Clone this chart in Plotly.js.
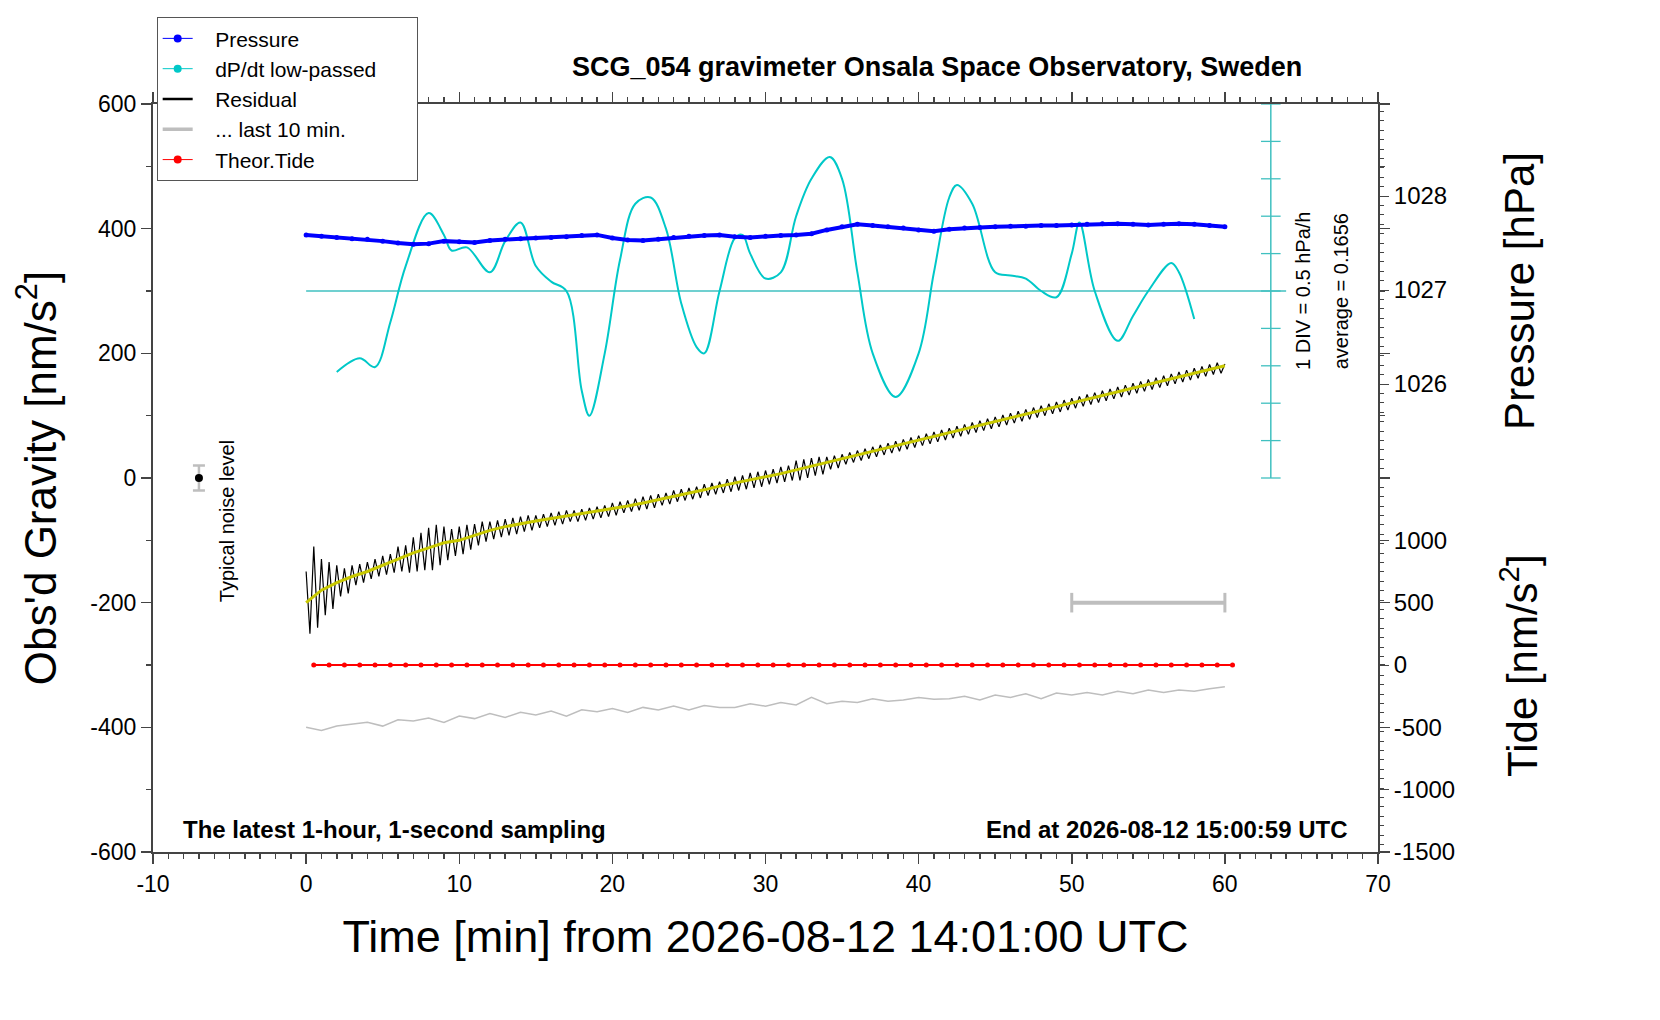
<!DOCTYPE html>
<html>
<head>
<meta charset="utf-8">
<script src="https://cdn.plot.ly/plotly-3.0.1.min.js"></script>
<style>body{margin:0;background:#fff}#chart{width:1660px;height:1020px}</style>
</head>
<body>
<div id="chart"></div>
<script>
// Values. Gravity in nm/s^2, time in minutes.
const MINUTES = [0,1,2,3,4,5,6,7,8,9,10,11,12,13,14,15,16,17,18,19,20,21,22,23,24,25,26,27,28,29,30,
  31,32,33,34,35,36,37,38,39,40,41,42,43,44,45,46,47,48,49,50,51,52,53,54,55,56,57,58,59,60];

// pressure, drawn in gravity units (1 hPa = 150.8 nm/s^2, 1027 hPa at 300)
const PRESSURE = [390,388,386,384,383,380,377,375,376,380,379,378,381,383,384,385,386,387,389,390,385,
  382,381,383,386,388,389,390,387,386,388,389,390,392,398,403,407,405,403,401,398,396,399,401,402,403,
  404,404,405,405,406,407,408,408,407,406,407,408,407,405,403];

// dP/dt low-passed, gravity units around the 300 baseline
const DPDT_X = [2,3.5,4.5,5.5,6.5,8,9,9.5,10.5,12,13,14,15,16,17,18,18.5,19.5,20.5,21.5,22.5,23.5,24.5,
  25.5,26,27,28,28.5,29,30,31,32,33,34.2,35,36,37,38.5,40,41,42,42.5,43.5,45,46,47,48,49,50,50.5,51.5,
  53,54,55,56.5,57,58];
const DPDT = [170,192,178,250,340,425,390,365,370,330,380,410,340,315,300,140,100,200,350,440,450,400,
  280,210,200,300,385,390,360,320,330,420,480,515,480,330,200,130,200,330,450,470,440,330,325,320,300,
  290,360,410,300,220,260,300,345,330,255];

// residual, one value every quarter minute from 0 to 60
const RESIDUAL = [
  -150,-250,-110,-240,-130,-220,-135,-210,-140,-190,-145,-185,-140,-172,-138,-168,-135,-162,-130,-158,
  -125,-155,-122,-152,-110,-150,-108,-152,-95,-150,-88,-148,-80,-148,-75,-140,-78,-132,-82,-125,
  -78,-122,-75,-115,-74,-108,-70,-102,-70,-98,-68,-95,-66,-92,-64,-90,-62,-86,-60,-84,
  -60,-80,-58,-78,-56,-76,-54,-74,-52,-70,-52,-70,-50,-68,-48,-66,-46,-64,-44,-62,
  -40,-60,-38,-56,-36,-54,-33,-52,-30,-50,-28,-48,-26,-44,-24,-42,-20,-38,-18,-36,
  -16,-34,-14,-32,-10,-28,-8,-26,-6,-24,-2,-22,2,-20,4,-18,8,-16,10,-14,
  12,-10,14,-8,18,-6,20,-4,28,-4,30,0,32,4,34,6,34,14,36,16,
  38,22,41,25,44,28,47,31,50,34,53,37,56,40,59,43,62,46,65,49,
  68,52,71,55,74,58,77,61,80,64,83,67,86,70,89,73,92,76,95,79,
  98,82,101,85,104,88,107,91,110,94,113,97,116,100,119,103,122,106,125,109,
  128,112,131,115,134,118,137,121,140,124,143,127,146,130,149,133,152,136,155,139,
  158,142,161,145,164,148,167,151,170,154,173,157,176,160,179,163,182,166,185,168,
  183];

// smoothed residual, per minute
const SMOOTH = [-200,-180,-168,-158,-150,-140,-130,-120,-112,-104,-100,-92,-84,-78,-73,-69,-65,-61,-58,
  -54,-50,-45,-40,-35,-30,-25,-19,-13,-8,-3,1,7,13,19,24,30,36,42,48,54,60,66,72,78,84,90,96,102,108,
  114,120,126,132,138,144,150,156,162,168,174,180];

// residual of last 10 minutes (grey, offset to -400)
const LAST10 = [-400,-405,-398,-395,-392,-398,-388,-390,-385,-392,-382,-386,-378,-384,-376,-380,-374,
  -382,-372,-375,-370,-376,-368,-372,-366,-372,-365,-368,-368,-362,-366,-360,-364,-352,-362,-358,-360,
  -354,-358,-356,-352,-355,-354,-350,-356,-348,-352,-346,-354,-345,-348,-344,-348,-342,-346,-340,-344,
  -340,-342,-338,-335];

// theoretical tide, nm/s^2 on the tide axis
const TIDE_X = [0.5,1.5,2.5,3.5,4.5,5.5,6.5,7.5,8.5,9.5,10.5,11.5,12.5,13.5,14.5,15.5,16.5,17.5,18.5,
  19.5,20.5,21.5,22.5,23.5,24.5,25.5,26.5,27.5,28.5,29.5,30.5,31.5,32.5,33.5,34.5,35.5,36.5,37.5,38.5,
  39.5,40.5,41.5,42.5,43.5,44.5,45.5,46.5,47.5,48.5,49.5,50.5,51.5,52.5,53.5,54.5,55.5,56.5,57.5,58.5,
  59.5,60.5];
const TIDE = [0,0,0,0,0,0,0,0,0,0,0,0,0,0,0,0,0,0,0,0,0,0,0,0,0,0,0,0,0,0,0,0,0,0,0,0,0,0,0,0,0,0,0,0,
  0,0,0,0,0,0,0,0,0,0,0,0,0,0,0,0,0];

const NOISE_X = [-7];
const NOISE = [0];
const NOISE_ERR = [20];
const BAR10_X = [50, 60];
const BAR10 = [-200, -200];
const BASE_X = [0, 64];
const BASE = [300, 300];
const DIV_X = [63,63,63,63,63,63,63,63,63,63,63];
const DIV = [0,60,120,180,240,300,360,420,480,540,600];

// tick labels, written with a plain hyphen as in the reference
const X_TICKS = [-10,0,10,20,30,40,50,60,70];
const X_LABELS = ["-10","0","10","20","30","40","50","60","70"];
const G_TICKS = [-600,-400,-200,0,200,400,600];
const G_LABELS = ["-600","-400","-200","0","200","400","600"];
const P_TICKS = [1026,1027,1028];
const T_TICKS = [-1500,-1000,-500,0,500,1000];
const T_LABELS = ["-1500","-1000","-500","0","500","1000"];

const BLUE = "#0000ff", CYAN = "#00c8c8", GREY = "#bebebe", RED = "#ff0000", YELLOW = "#c8c800";
const FONT = "Liberation Sans, Arial, sans-serif";
const PAD = "\u00a0\u00a0\u00a0";

const residualX = RESIDUAL.map((v, i) => i * 0.25);

const traces = [
  { x: BASE_X, y: BASE, mode: "lines", line: { color: "#40c0c0", width: 1.3 }, showlegend: false },
  { x: DIV_X, y: DIV, mode: "lines+markers", line: { color: "#40c0c0", width: 1.5 },
    marker: { symbol: "line-ew", size: 14, line: { color: "#40c0c0", width: 1.3 } }, showlegend: false },
  { x: DPDT_X, y: DPDT, mode: "lines", line: { color: CYAN, width: 2, shape: "spline" }, showlegend: false },
  { x: MINUTES, y: PRESSURE, mode: "lines+markers", line: { color: BLUE, width: 4 },
    marker: { color: BLUE, size: 5 }, showlegend: false },
  { x: MINUTES, y: LAST10, mode: "lines", line: { color: GREY, width: 1.5 }, showlegend: false },
  { x: residualX, y: RESIDUAL, mode: "lines", line: { color: "#000", width: 1.2 }, showlegend: false },
  { x: MINUTES, y: SMOOTH, mode: "lines", line: { color: YELLOW, width: 3 }, showlegend: false },
  { x: BAR10_X, y: BAR10, mode: "lines+markers", line: { color: GREY, width: 4 },
    marker: { symbol: "line-ns", size: 14, line: { color: GREY, width: 3 } }, showlegend: false },
  { x: NOISE_X, y: NOISE, mode: "markers", marker: { color: "#000", size: 8 },
    error_y: { type: "data", array: NOISE_ERR, color: GREY, thickness: 2.5, width: 6 }, showlegend: false },
  { x: TIDE_X, y: TIDE, yaxis: "y3", mode: "lines+markers", line: { color: RED, width: 2 },
    marker: { color: RED, size: 5 }, showlegend: false },
  { x: [null], y: [null], yaxis: "y2", showlegend: false, hoverinfo: "skip" },
  // legend entries
  { x: [null], y: [null], name: PAD + "Pressure", mode: "lines+markers", line: { color: BLUE, width: 1 }, marker: { color: BLUE, size: 8 } },
  { x: [null], y: [null], name: PAD + "dP/dt low-passed" + PAD + PAD, mode: "lines+markers", line: { color: CYAN, width: 1 }, marker: { color: CYAN, size: 8 } },
  { x: [null], y: [null], name: PAD + "Residual", mode: "lines", line: { color: "#000", width: 2.5 } },
  { x: [null], y: [null], name: PAD + "... last 10 min.", mode: "lines", line: { color: GREY, width: 3.5 } },
  { x: [null], y: [null], name: PAD + "Theor.Tide", mode: "lines+markers", line: { color: RED, width: 1 }, marker: { color: RED, size: 8 } },
];

const layout = {
  width: 1660, height: 1020,
  paper_bgcolor: "#fff", plot_bgcolor: "#fff",
  font: { family: FONT, color: "#000", size: 23 },
  margin: { l: 153, r: 282, t: 104, b: 168 },
  showlegend: true,
  legend: { x: 0.003, y: 1.116, xanchor: "left", yanchor: "top", bgcolor: "#fff",
    bordercolor: "#555", borderwidth: 1, font: { size: 21 }, tracegroupgap: 0 },
  xaxis: { range: [-10, 70], tickvals: X_TICKS, ticktext: X_LABELS, ticks: "outside", ticklen: 10, tickwidth: 1.5,
    showline: true, linewidth: 2, mirror: "ticks", showgrid: false, zeroline: false,
    minor: { dtick: 1, ticks: "outside", ticklen: 5 },
    title: { text: "Time [min] from 2026-08-12 14:01:00 UTC", font: { size: 45 }, standoff: 25 } },
  yaxis: { range: [-600, 600], tickvals: G_TICKS, ticktext: G_LABELS, ticks: "outside", ticklen: 10, tickwidth: 1.5,
    showline: true, linewidth: 2, mirror: "ticks", showgrid: false, zeroline: false,
    minor: { dtick: 100, ticks: "outside", ticklen: 5 },
    title: { text: "Obs'd Gravity [nm/s<sup>2</sup>]", font: { size: 44 }, standoff: 20 } },
  yaxis2: { overlaying: "y", side: "right", range: [1021.02, 1028.98], tickvals: P_TICKS,
    ticks: "outside", ticklen: 10, showgrid: false, zeroline: false, showline: false,
    tickfont: { size: 24 }, minor: { dtick: 0.1, ticks: "outside", ticklen: 5 } },
  yaxis3: { overlaying: "y", side: "right", range: [-1500, 4500], tickvals: T_TICKS, ticktext: T_LABELS,
    ticks: "outside", ticklen: 10, showgrid: false, zeroline: false, showline: false, tickfont: { size: 24 } },
  annotations: [
    { text: "<b>SCG_054 gravimeter Onsala Space Observatory, Sweden</b>", xref: "paper", yref: "paper",
      x: 0.64, y: 1.05, xanchor: "center", yanchor: "middle", showarrow: false, font: { size: 27 } },
    { text: "<b>The latest 1-hour, 1-second sampling</b>", xref: "paper", yref: "paper",
      x: 0.023, y: 0.03, xanchor: "left", yanchor: "middle", showarrow: false, font: { size: 24 } },
    { text: "<b>End at 2026-08-12 15:00:59 UTC</b>", xref: "paper", yref: "paper",
      x: 0.977, y: 0.03, xanchor: "right", yanchor: "middle", showarrow: false, font: { size: 24 } },
    { text: "Typical noise level", x: -5.2, y: -70, textangle: -90, showarrow: false, font: { size: 20 } },
    { text: "1 DIV = 0.5 hPa/h", x: 65.1, y: 300, textangle: -90, showarrow: false, font: { size: 20 } },
    { text: "average = 0.1656", x: 67.6, y: 300, textangle: -90, showarrow: false, font: { size: 20 } },
    { text: "Pressure [hPa]", xref: "paper", yref: "paper", x: 1.115, y: 0.75, xanchor: "center", yanchor: "middle",
      textangle: -90, showarrow: false, font: { size: 42 } },
    { text: "Tide [nm/s<sup>2</sup>]", xref: "paper", yref: "paper", x: 1.115, y: 0.25, xanchor: "center", yanchor: "middle",
      textangle: -90, showarrow: false, font: { size: 42 } },
  ],
};

Plotly.newPlot("chart", traces, layout, { displayModeBar: false, staticPlot: true });
</script>
</body>
</html>
